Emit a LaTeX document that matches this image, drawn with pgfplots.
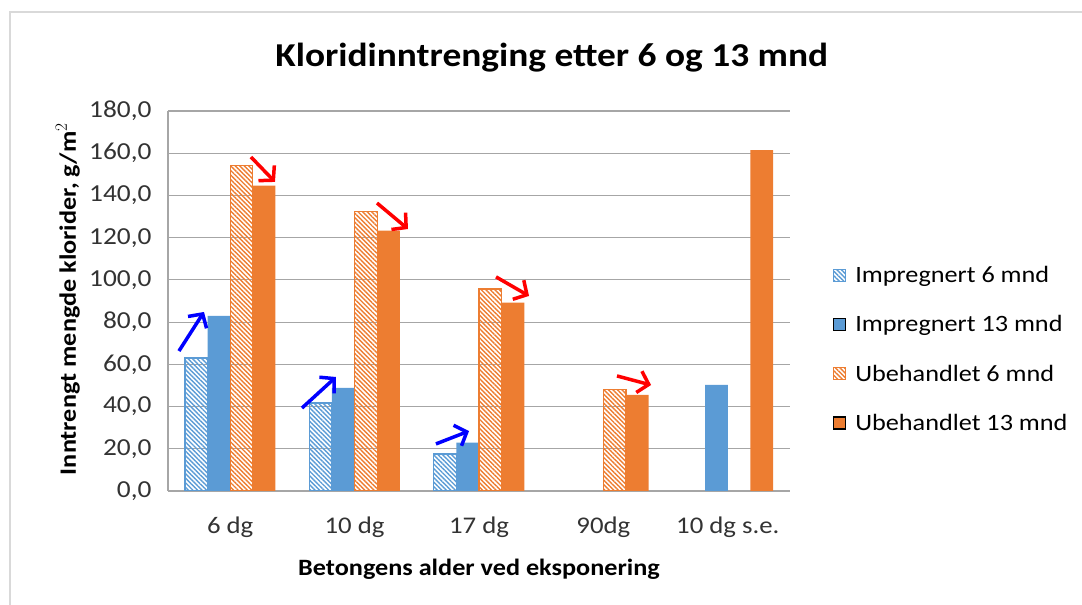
\documentclass[border=0pt]{standalone}
\usepackage{pgfplots}
\pgfplotsset{compat=1.18}
\usepackage{fontspec}
\setmainfont{Carlito}[FakeStretch=1.12]
\usetikzlibrary{patterns.meta, arrows.meta}
\definecolor{xblue}{HTML}{5B9BD5}
\definecolor{xorange}{HTML}{ED7D31}
\definecolor{gridc}{HTML}{A6A6A6}
\definecolor{framec}{HTML}{D9D9D9}
\begin{document}
\begin{tikzpicture}[x=1bp,y=1bp]
\path[use as bounding box] (0,0) rectangle (1082,605);
\draw[framec, line width=1.2bp] (10,-20) -- (10,593) -- (1100,593);
\begin{axis}[
  at={(168bp,114bp)}, anchor=south west,
  scale only axis, width=622bp, height=380bp,
  xmin=-0.5, xmax=4.5, ymin=0, ymax=180,
  ytick={0,20,...,180},
  xtick={0,1,2,3,4},
  xticklabels={6 dg,10 dg,17 dg,90dg,10 dg s.e.},
  major tick length=0pt,
  axis x line*=bottom, axis y line*=left,
  axis line style={gridc, line width=1.2bp},
  x axis line style={-}, y axis line style={-},
  ymajorgrids, grid style={gridc, line width=1.2bp},
  /pgf/number format/.cd, fixed, fixed zerofill, precision=1, use comma, assume math mode=true,
  /pgfplots/.cd,
  yticklabel style={font=\fontsize{24.5}{26}\selectfont, text=black!80, xshift=-13bp},
  xticklabel style={font=\fontsize{24}{26}\selectfont, text=black!80, yshift=-22bp},
  title={Kloridinntrenging etter 6 og 13 mnd},
  title style={font=\bfseries\fontsize{33.5}{36}\selectfont, at={(0.617,1.126)}, anchor=center},
  xlabel={Betongens alder ved eksponering},
  xlabel style={font=\bfseries\fontsize{23.5}{25}\selectfont, at={(0.5,-0.205)}, anchor=center},
  ylabel={Inntrengt mengde klorider, g/m$^2$},
  ylabel style={font=\bfseries\fontsize{23.5}{25}\selectfont, at={(-0.161,0.505)}, anchor=center, rotate=0},
  ybar, bar width=0.182,
  legend style={draw=none, fill=none, at={(1.069,0.597)}, anchor=north west,
    font=\fontsize{23.5}{25}\selectfont, row sep=27.5bp, column sep=7bp, inner sep=0pt},
  legend cell align=left,
  legend image code/.code={\draw[#1, line width=1.2bp] (0bp,-6bp) rectangle (12bp,6bp);},
]
\addplot[bar shift=-0.273, draw=xblue, line width=1.2bp, pattern={Lines[angle=-45,distance=3.2bp,line width=1.4bp]}, pattern color=xblue]
  coordinates {(0,63) (1,41.7) (2,17.5)};
\addplot[bar shift=-0.091, draw=none, fill=xblue]
  coordinates {(0,83) (1,48.8) (2,22.9) (4,50.3)};
\addplot[bar shift=0.091, draw=xorange, line width=1.2bp, pattern={Lines[angle=-45,distance=3.2bp,line width=1.4bp]}, pattern color=xorange]
  coordinates {(0,154) (1,132.5) (2,95.7) (3,48.2)};
\addplot[bar shift=0.273, draw=none, fill=xorange]
  coordinates {(0,144.7) (1,123.3) (2,89.2) (3,45.5) (4,161.5)};
\legend{Impregnert 6 mnd, Impregnert 13 mnd, Ubehandlet 6 mnd, Ubehandlet 13 mnd}
\begin{scope}[line width=3.5bp, -{Straight Barb[length=10bp,width=22bp,line width=3.5bp]}]
\draw[blue] (axis cs:-0.412,66.3) -- (axis cs:-0.211,84.8);
\draw[blue] (axis cs:0.577,39.3) -- (axis cs:0.850,54.0);
\draw[blue] (axis cs:1.654,22.3) -- (axis cs:1.920,28.4);
\draw[red] (axis cs:0.167,158.2) -- (axis cs:0.360,146.4);
\draw[red] (axis cs:1.180,136.4) -- (axis cs:1.429,124.1);
\draw[red] (axis cs:2.137,101.4) -- (axis cs:2.402,92.4);
\draw[red] (axis cs:3.109,54.5) -- (axis cs:3.383,50.2);
\end{scope}
\end{axis}
\end{tikzpicture}
\end{document}
